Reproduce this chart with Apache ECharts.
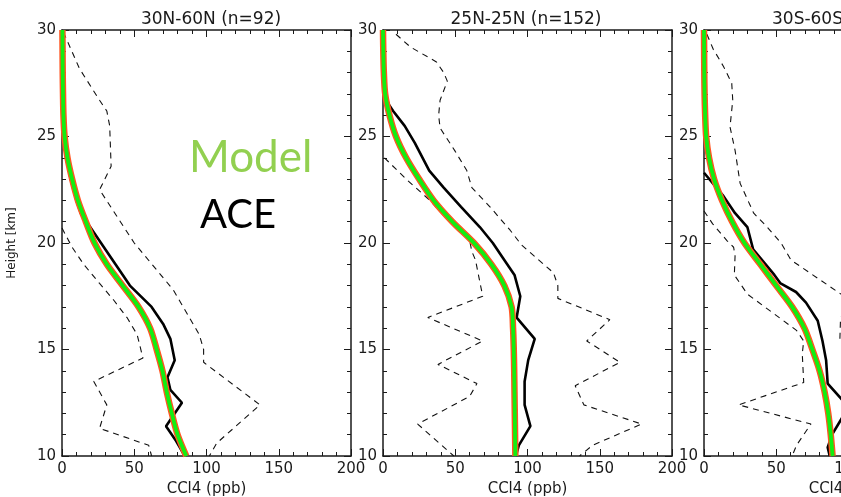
<!DOCTYPE html>
<html>
<head>
<meta charset="utf-8">
<script src="https://cdn.jsdelivr.net/npm/echarts@6/dist/echarts.min.js"></script>
<style>html,body{margin:0;padding:0;background:#fff;}#c{width:841px;height:497px;}</style>
</head>
<body>
<div id="c"></div>
<script>
// ---------- data ----------
var panelTitles = ['30N-60N (n=92)', '25N-25N (n=152)', '30S-60S'];
var xTicks = [0, 50, 100, 150, 200];
var yTicks = [10, 15, 20, 25, 30];
var modelHeights = [30,29,28,27,26,25,24,23,22,21,20,19,18,17,16,15,14,13,12,11,10];

// panel 1 : 30N-60N
var model1 = [0.3,0.4,0.5,0.7,1,1.8,3.8,7,11,16.5,22.5,31,42,53,61,65.5,69.5,72.5,76,80,86];
var ace1 = [[0.3,30],[0.5,27],[1,25],[3,24],[6,23],[10,22],[13,21.4],[17,21],[27,20],[37,19],[47,18],[62,17],[70,16.2],[75,15.5],[78,14.5],[73,13.7],[75,13.1],[83,12.5],[72,11.4],[79,10.7],[85,10]];
var ace1Hi = [[1,29.9],[12,28.2],[26,26.7],[31,26.2],[33,25.5],[34,23.6],[26,22.5],[50,20],[77,17.8],[95,15.7],[98,15],[98,14.4],[137,12.4],[107,10.6],[102,10]];
var ace1Lo = [[0,20.7],[7,19.8],[15,19],[26,18.1],[36,17.3],[45,16.5],[52,15.7],[56,14.6],[22,13.5],[31,12.4],[26,11.3],[60,10.5],[62,10]];

// panel 2 : 25N-25N
var model2 = [0,0.2,0.6,1.5,4.5,9,16,25,35,48,63,75,84,89,90,90.5,90.8,91,91.2,91.4,91.6];
var ace2 = [[0,30],[0.5,28],[1.5,27],[4,26.5],[7,26.2],[15,25.5],[22,24.7],[32,23.4],[42,22.6],[54,21.7],[67,20.75],[76,20],[83,19.3],[91,18.5],[95,17.5],[92.5,16.5],[105,15.5],[100.5,14.5],[98,13.5],[98,12.4],[102,11.4],[94,10.5],[92,10]];
var ace2Hi = [[9,29.8],[19,29.2],[37,28.5],[42,28],[44.5,27.6],[39.5,26.7],[38.5,26],[39.5,25.4],[50,24.3],[58,23.4],[61.5,22.6],[74,21.7],[88,20.6],[96,19.9],[118,18.6],[121,18],[121,17.4],[157,16.4],[141,15.4],[164,14.4],[133,13.3],[139,12.4],[179,11.5],[145,10.5],[136,10]];
var ace2Lo = [[1,24],[16,23],[32.5,22],[46,21],[60,20.1],[61.5,19.6],[64,19.2],[69,17.5],[31,16.5],[69,15.4],[38,14.3],[65,13.4],[60,12.8],[24,11.5],[49,10]];

// panel 3 : 30S-60S
var model3 = [0,0.1,0.2,0.4,0.8,1.5,3.5,7,12.5,19.5,28,39,50,61,69.5,75,80,83.5,86,87.7,89];
var ace3 = [[0,23.3],[13.5,22.2],[21.5,21.4],[30,20.75],[34,19.7],[48.7,18.5],[53,18.1],[63.7,17.7],[70.6,17.2],[78.7,16.35],[82,15.4],[84.5,14.5],[85.6,13.4],[100,12.3],[88.6,11],[85.6,10.4],[87,10]];
var ace3Hi = [[2,29.8],[6.4,29.1],[13.4,28.3],[19.2,27.5],[19.9,26.7],[18,25.45],[21.5,24.35],[25,22.8],[34.4,21.4],[43.7,20.75],[53.3,20],[60.2,19.2],[94.8,17.6],[105,17.1],[94.5,16.5],[94,15.4],[110,14.5],[120,13],[130,12.4],[110,11],[100,10]];
var ace3Lo = [[0,21.5],[6,20.9],[16,20.1],[20.5,19.8],[21.5,19.4],[21,18.5],[30,17.6],[48,16.7],[64,15.9],[69,15.4],[68,14.8],[69,13.45],[24,12.4],[74,11.5],[64,10.5],[61,10]];

var legendModel = 'Model';
var legendAce = 'ACE';
var xName = 'CCl4 (ppb)';
var yName = 'Height [km]';

// ---------- build ----------
var panels = [
  {left: 62, model: model1, ace: ace1, hi: ace1Hi, lo: ace1Lo},
  {left: 383, model: model2, ace: ace2, hi: ace2Hi, lo: ace2Lo},
  {left: 704, model: model3, ace: ace3, hi: ace3Hi, lo: ace3Lo}
];
var CW = 841, CH = 497;
var TOP = 30, W = 289, H = 426;
var FONT = 'DejaVu Sans';
var grids = [], xAxes = [], yAxes = [], series = [];

function pairs(vals) { return vals.map(function (v, i) { return [v, modelHeights[i]]; }); }

panels.forEach(function (p, i) {
  grids.push({left: p.left, right: CW - p.left - W, top: TOP, bottom: CH - TOP - H,
              containLabel: false, outerBoundsMode: 'none'});
  var common = {
    type: 'value', gridIndex: i, splitLine: {show: false},
    axisLine: {show: true, onZero: false, lineStyle: {color: '#1a1a1a', width: 1.5}},
    axisTick: {show: true, inside: true, length: 7, lineStyle: {color: '#1a1a1a', width: 1}},
    minorTick: {show: true, splitNumber: 5, length: 4, lineStyle: {color: '#1a1a1a', width: 1}},
    minorSplitLine: {show: false}
  };
  xAxes.push(Object.assign({}, common, {
    position: 'bottom', min: xTicks[0], max: xTicks[xTicks.length - 1], interval: xTicks[1] - xTicks[0],
    axisLabel: {show: true, margin: 6, color: '#1a1a1a', fontFamily: FONT, fontSize: 15},
    name: xName, nameLocation: 'middle', nameGap: 24,
    nameTextStyle: {color: '#1a1a1a', fontFamily: FONT, fontSize: 15}
  }));
  xAxes.push(Object.assign({}, common, {
    position: 'top', min: xTicks[0], max: xTicks[xTicks.length - 1], interval: xTicks[1] - xTicks[0],
    axisLabel: {show: false}
  }));
  var yLeft = Object.assign({}, common, {
    position: 'left', min: yTicks[0], max: yTicks[yTicks.length - 1], interval: yTicks[1] - yTicks[0],
    axisLabel: {show: true, margin: 6, color: '#1a1a1a', fontFamily: FONT, fontSize: 15}
  });
  if (i === 0) {
    yLeft.name = yName; yLeft.nameLocation = 'middle'; yLeft.nameGap = 44; yLeft.nameRotate = 90;
    yLeft.nameTextStyle = {color: '#1a1a1a', fontFamily: FONT, fontSize: 12};
  }
  yAxes.push(yLeft);
  yAxes.push(Object.assign({}, common, {
    position: 'right', min: yTicks[0], max: yTicks[yTicks.length - 1], interval: yTicks[1] - yTicks[0],
    axisLabel: {show: false}
  }));

  var xi = 2 * i, yi = 2 * i;
  var dashed = {color: '#111', width: 1.1, type: [6, 5]};
  series.push({type: 'line', xAxisIndex: xi, yAxisIndex: yi, data: p.hi, symbol: 'none', lineStyle: dashed, silent: true, animation: false});
  series.push({type: 'line', xAxisIndex: xi, yAxisIndex: yi, data: p.lo, symbol: 'none', lineStyle: dashed, silent: true, animation: false});
  series.push({type: 'line', xAxisIndex: xi, yAxisIndex: yi, data: p.ace, symbol: 'none', lineStyle: {color: '#000', width: 2.6}, silent: true, animation: false});
  series.push({type: 'line', xAxisIndex: xi, yAxisIndex: yi, data: pairs(p.model), symbol: 'none', smooth: 0.3, lineStyle: {color: '#ff5522', width: 6.5}, silent: true, animation: false});
  series.push({type: 'line', xAxisIndex: xi, yAxisIndex: yi, data: pairs(p.model), symbol: 'none', smooth: 0.3, lineStyle: {color: '#11ee11', width: 3.8}, silent: true, animation: false});
});

var titleStyle = {color: '#1a1a1a', fontFamily: FONT, fontSize: 17, fontWeight: 'normal'};
var option = {
  backgroundColor: '#ffffff',
  animation: false,
  title: [
    {text: panelTitles[0], left: 206, top: 6, textAlign: 'center', textStyle: titleStyle},
    {text: panelTitles[1], left: 521, top: 6, textAlign: 'center', textStyle: titleStyle},
    {text: panelTitles[2], left: 767, top: 6, textStyle: titleStyle}
  ],
  grid: grids,
  xAxis: xAxes,
  yAxis: yAxes,
  series: series,
  graphic: [
    {type: 'text', left: 189, top: 136, style: {text: legendModel, fill: '#92d050', font: '44px Lato'}},
    {type: 'text', left: 200, top: 195, style: {text: legendAce, fill: '#000000', font: '40px Lato'}}
  ]
};
var chart = echarts.init(document.getElementById('c'), null, {renderer: 'canvas'});
chart.setOption(option);
</script>
</body>
</html>
